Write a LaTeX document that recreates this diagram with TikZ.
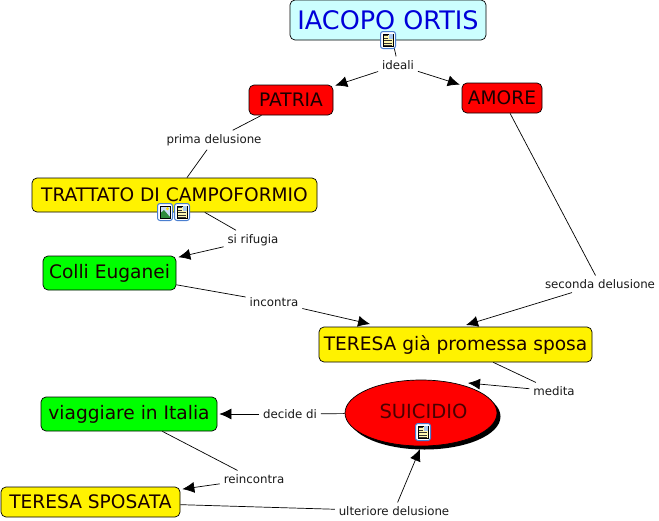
\documentclass[tikz,border=0pt]{standalone}
\usepackage{fontspec}
\setmainfont{DejaVu Sans}
\usetikzlibrary{arrows.meta,shapes.geometric,shadows}
\definecolor{cmapcyan}{HTML}{CCFFFF}
\definecolor{iconblue}{HTML}{4A7FD0}
\definecolor{iconpaper}{HTML}{FFF8B0}
\definecolor{iconsky}{HTML}{A8C8F0}
\definecolor{icongreen}{HTML}{2E8B3C}
\begin{document}
\begin{tikzpicture}[x=1pt,y=-1pt,
    concept/.style={rectangle,draw=black,line width=0.7pt,rounded corners=5pt,
      minimum height=#1,inner sep=0pt,text=black!90!red,font=\fontsize{18.6}{20}\selectfont},
    concept/.default=34pt,
    link/.style={font=\fontsize{11.8}{13}\selectfont,inner sep=1pt,outer sep=3pt,text=black!90},
    conn/.style={line width=0.7pt,black},
    arr/.style={conn,-{Latex[length=12pt,width=11pt]},shorten >=2pt},
    noteicon/.pic={
      \draw[iconblue,fill=white,rounded corners=2.5pt,line width=1pt] (-7.5,-8.5) rectangle (7.5,8.5);
      \fill[iconpaper] (-5,-6) rectangle (5,6);
      \draw[black,line width=0.4pt] (-5,-6) rectangle (5,6);
      \fill[iconsky] (0.5,-5.6) rectangle (4.6,-1.5);
      \foreach \yy in {-4.5,-2,0.5,3,4.8}
        \draw[black!80,line width=0.5pt] (-4,\yy) -- (\ifdim\yy pt<0pt -0.5\else 4\fi,\yy);
    },
    imageicon/.pic={
      \draw[iconblue,fill=white,rounded corners=2.5pt,line width=1pt] (-7.5,-8.5) rectangle (7.5,8.5);
      \fill[iconsky!60!white] (-5,-6) rectangle (5,6);
      \fill[icongreen] (-5,6) -- (-5,1.5) -- (-1,-2) -- (5,5) -- (5,6) -- cycle;
      \fill[yellow!80!orange] (2.5,-3.2) circle (1.6);
      \draw[black,line width=0.4pt] (-5,-6) rectangle (5,6);
    }]
  \useasboundingbox[fill=white] (0,0) rectangle (659,520);

  \node[concept=40pt,fill=cmapcyan,minimum width=196pt,text=blue!85!black,
        font=\fontsize{25.5}{28}\selectfont] (ortis) at (388,20) {IACOPO ORTIS};
  \node[concept=30pt,fill=red,minimum width=84pt] (patria) at (291,100) {PATRIA};
  \node[concept=30pt,fill=red,minimum width=80pt] (amore) at (502,98) {AMORE};
  \node[concept,fill=yellow,minimum width=285pt] (trattato) at (174.5,195) {TRATTATO DI CAMPOFORMIO};
  \node[concept,fill=green,minimum width=133pt] (colli) at (109.5,273) {Colli Euganei};
  \node[concept=35pt,fill=yellow,minimum width=273pt] (teresa) at (455.5,344.5) {TERESA già promessa sposa};
  \node[ellipse,draw=black,fill=red,line width=0.7pt,minimum width=152pt,minimum height=66pt,
        inner sep=0pt,
        drop shadow={shadow xshift=3.5pt,shadow yshift=-3.5pt,opacity=1,fill=black}] (suicidio) at (421,413) {};
  \node[font=\fontsize{19.5}{20}\selectfont,text=black!70!red,inner sep=0pt] (suicidiotext) at (423.5,411) {SUICIDIO};
  \node[concept,fill=green,minimum width=176pt] (viaggiare) at (129,414) {viaggiare in Italia};
  \node[concept=30pt,fill=yellow,minimum width=179pt] (sposata) at (90.5,502) {TERESA SPOSATA};

  \node[link] (ideali) at (398,65) {ideali};
  \node[link] (prima) at (214,140) {prima delusione};
  \node[link] (rifugia) at (253,240) {si rifugia};
  \node[link] (incontra) at (274,302) {incontra};
  \node[link] (seconda) at (600,284) {seconda delusione};
  \node[link] (medita) at (554,391) {medita};
  \node[link] (decide) at (290,414) {decide di};
  \node[link] (reincontra) at (254,479) {reincontra};
  \node[link] (ulteriore) at (394,511) {ulteriore delusione};

  \coordinate (teresaleft) at (372,324.5);
  \coordinate (teresaright) at (466,325);
  \coordinate (suicidiotop) at (468,383);
  \coordinate (suicidiobottom) at (420,449);

  \draw[conn] (ortis) -- (ideali);
  \draw[arr] (ideali) -- (patria);
  \draw[arr] (ideali) -- (amore);
  \draw[conn] (patria) -- (prima);
  \draw[conn] (prima) -- (trattato);
  \draw[conn] (trattato) -- (rifugia);
  \draw[arr] (rifugia) -- (colli);
  \draw[conn] (colli) -- (incontra);
  \draw[arr] (incontra) -- (teresaleft);
  \draw[conn] (amore) -- (seconda);
  \draw[arr,shorten >=0pt] (seconda) -- (teresaright);
  \draw[conn] (teresa) -- (medita);
  \draw[arr,shorten >=0pt] (medita) -- (suicidiotop);
  \draw[conn] (suicidio) -- (decide);
  \draw[arr] (decide) -- (viaggiare);
  \draw[conn] (viaggiare) -- (reincontra);
  \draw[arr] (reincontra) -- (sposata);
  \draw[conn] (sposata) -- (ulteriore);
  \draw[arr,shorten >=0pt] (ulteriore) -- (suicidiobottom);

  \pic at (388,40) {noteicon};
  \pic at (165,212) {imageicon};
  \pic at (182,212) {noteicon};
  \pic at (423,432) {noteicon};
\end{tikzpicture}
\end{document}
